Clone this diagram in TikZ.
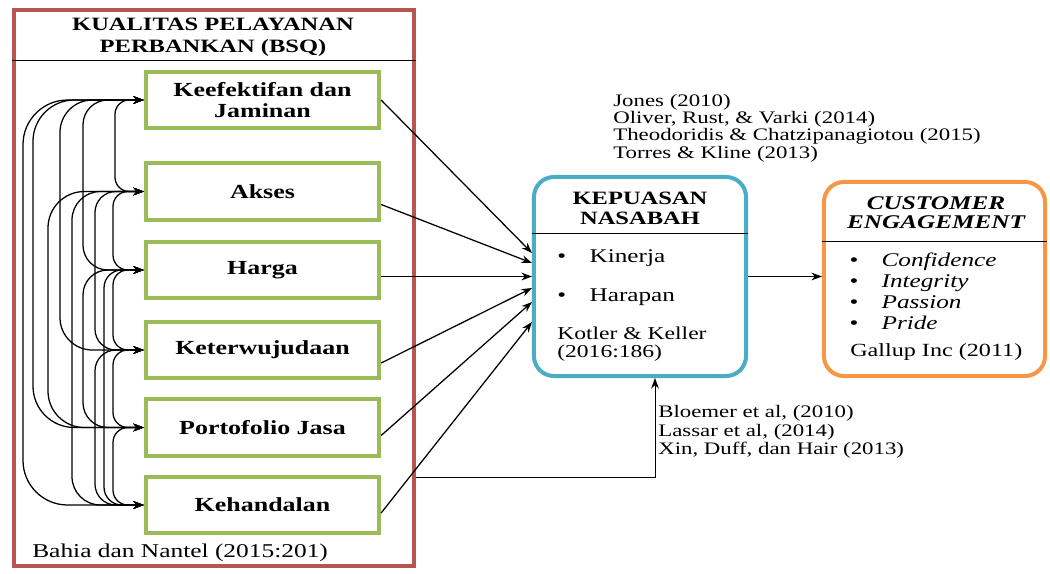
\documentclass[tikz,border=0pt]{standalone}
\usepackage{fontspec}
\setmainfont{Liberation Serif}[FakeStretch=1.3]
\usetikzlibrary{arrows.meta,calc}

\definecolor{bsqred}{RGB}{185,85,80}
\definecolor{dimgreen}{RGB}{155,187,89}
\definecolor{kpblue}{RGB}{75,172,198}
\definecolor{ceorange}{RGB}{247,150,70}

\newcommand{\bul}[1]{\makebox[23pt][l]{\textbullet}#1}

\begin{document}
\begin{tikzpicture}[x=0.025cm, y=-0.025cm,
    dim/.style={draw=dimgreen, line width=0.1cm, minimum width=5.83cm, minimum height=1.42cm,
                align=center, font={\bfseries\fontsize{14.2}{14.4}\selectfont}},
    head/.style={align=center, inner sep=0pt, font={\bfseries\fontsize{13.4}{14.2}\selectfont}},
    txt/.style={align=left, anchor=west, inner sep=0pt, font={\fontsize{13.8}{14.9}\selectfont}},
    cite/.style={align=left, anchor=west, inner sep=0pt, font={\fontsize{12.5}{12.8}\selectfont}},
    arr/.style={line width=0.9pt, -{Stealth[length=7.5pt,width=5.5pt]}},
    corr/.style={line width=0.9pt, {Stealth[length=7.5pt,width=5.5pt]}-{Stealth[length=7.5pt,width=5.5pt]}}]

    \useasboundingbox (0,0) rectangle (1050,573);

    % Draw the outer frame of the service quality block
    \node[draw=bsqred, line width=0.1cm, minimum width=10cm, minimum height=13.9cm] (bsq) at (214,288) {};
    \draw[line width=0.6pt] (bsq.west |- 0,60) -- (bsq.east |- 0,60);
    \node[head, font={\bfseries\fontsize{13.4}{15.6}\selectfont}] (bsqhead) at (213,37) {KUALITAS PELAYANAN\\PERBANKAN (BSQ)};

    % The six dimensions
    \node[dim] (k1) at (262.5,100) {Keefektifan dan\\Jaminan};
    \node[dim] (k2) at (262.5,191.5) {Akses};
    \node[dim] (k3) at (262.5,270) {Harga};
    \node[dim] (k4) at (262.5,350) {Keterwujudaan};
    \node[dim] (k5) at (262.5,427.5) {Portofolio Jasa};
    \node[dim] (k6) at (262.5,505) {Kehandalan};

    \node[txt, font={\fontsize{13.9}{15}\selectfont}] (bahia) at (32,553) {Bahia dan Nantel (2015:201)};

    % Correlations between the dimensions, one lane each
    \foreach \a/\b/\l in {k1/k6/23, k1/k5/33, k1/k4/60, k1/k3/83, k1/k2/115,
                          k2/k6/72, k2/k5/48, k2/k4/95, k2/k3/113,
                          k3/k6/104, k3/k5/83, k3/k4/113,
                          k4/k6/95, k4/k5/113, k5/k6/113} {
        \pgfmathsetmacro\rad{(140-\l)*0.33+6}
        \draw[corr, rounded corners=\rad*0.025cm] (\a.west) -| (\l,0 |- \b.west) -- (\b.west);
    }

    % Customer satisfaction box
    \node[draw=kpblue, line width=0.1cm, rounded corners=0.5cm, minimum width=5.3cm, minimum height=4.975cm] (kp) at (640,276.5) {};
    \draw[line width=0.6pt] (kp.west |- 0,233) -- (kp.east |- 0,233);
    \node[head] (kphead) at (640,208) {KEPUASAN\\NASABAH};
    \node[txt] (kin) at (557,258) {\bul{Kinerja}};
    \node[txt] (hara) at (557,297) {\bul{Harapan}};
    \node[txt, font={\fontsize{12.9}{12.8}\selectfont}] (kotler) at (557,344) {Kotler \& Keller\\(2016:186)};

    % Customer engagement box
    \node[draw=ceorange, line width=0.1cm, rounded corners=0.5cm, minimum width=5.525cm, minimum height=4.85cm] (ce) at (934.5,279) {};
    \draw[line width=0.6pt] (ce.west |- 0,241) -- (ce.east |- 0,241);
    \node[head, font={\bfseries\itshape\fontsize{13.8}{13.6}\selectfont}] (cehead) at (936,212.5) {CUSTOMER\\ENGAGEMENT};
    \node[txt, font={\itshape\fontsize{13.8}{14.9}\selectfont}] (cedims) at (849,291.5) {\bul{Confidence}\\\bul{Integrity}\\\bul{Passion}\\\bul{Pride}};
    \node[txt, font={\fontsize{13.2}{14}\selectfont}] (gallup) at (850,352) {Gallup Inc (2011)};

    % References
    \node[cite, font={\fontsize{12.5}{12.4}\selectfont}] (refkp) at (613,128) {Jones (2010)\\Oliver, Rust, \& Varki (2014)\\Theodoridis \& Chatzipanagiotou (2015)\\Torres \& Kline (2013)};
    \node[cite, font={\fontsize{12.5}{13.2}\selectfont}] (refbsq) at (658,432) {Bloemer et al, (2010)\\Lassar et al, (2014)\\Xin, Duff, dan Hair (2013)};

    % Arrows into customer satisfaction
    \draw[arr] (k1.east) -- ($(kp.west)+(0,-23.5)$);
    \draw[arr] ($(k2.east)+(0,13)$) -- ($(kp.west)+(0,-13.5)$);
    \draw[arr] ($(k3.east)+(0,6.5)$) -- (kp.west);
    \draw[arr] ($(k4.east)+(0,13)$) -- ($(kp.west)+(0,11.5)$);
    \draw[arr] ($(k5.east)+(0,8)$) -- ($(kp.west)+(0,25.5)$);
    \draw[arr] ($(k6.east)+(0,8)$) -- ($(kp.west)+(0,45.5)$);
    \draw[arr, line width=0.6pt] ($(bsq.east)+(0,189)$) -| ($(kp.south)+(15,0)$);

    % Satisfaction to engagement
    \draw[arr] (kp.east) -- (kp.east -| ce.west);
\end{tikzpicture}
\end{document}
